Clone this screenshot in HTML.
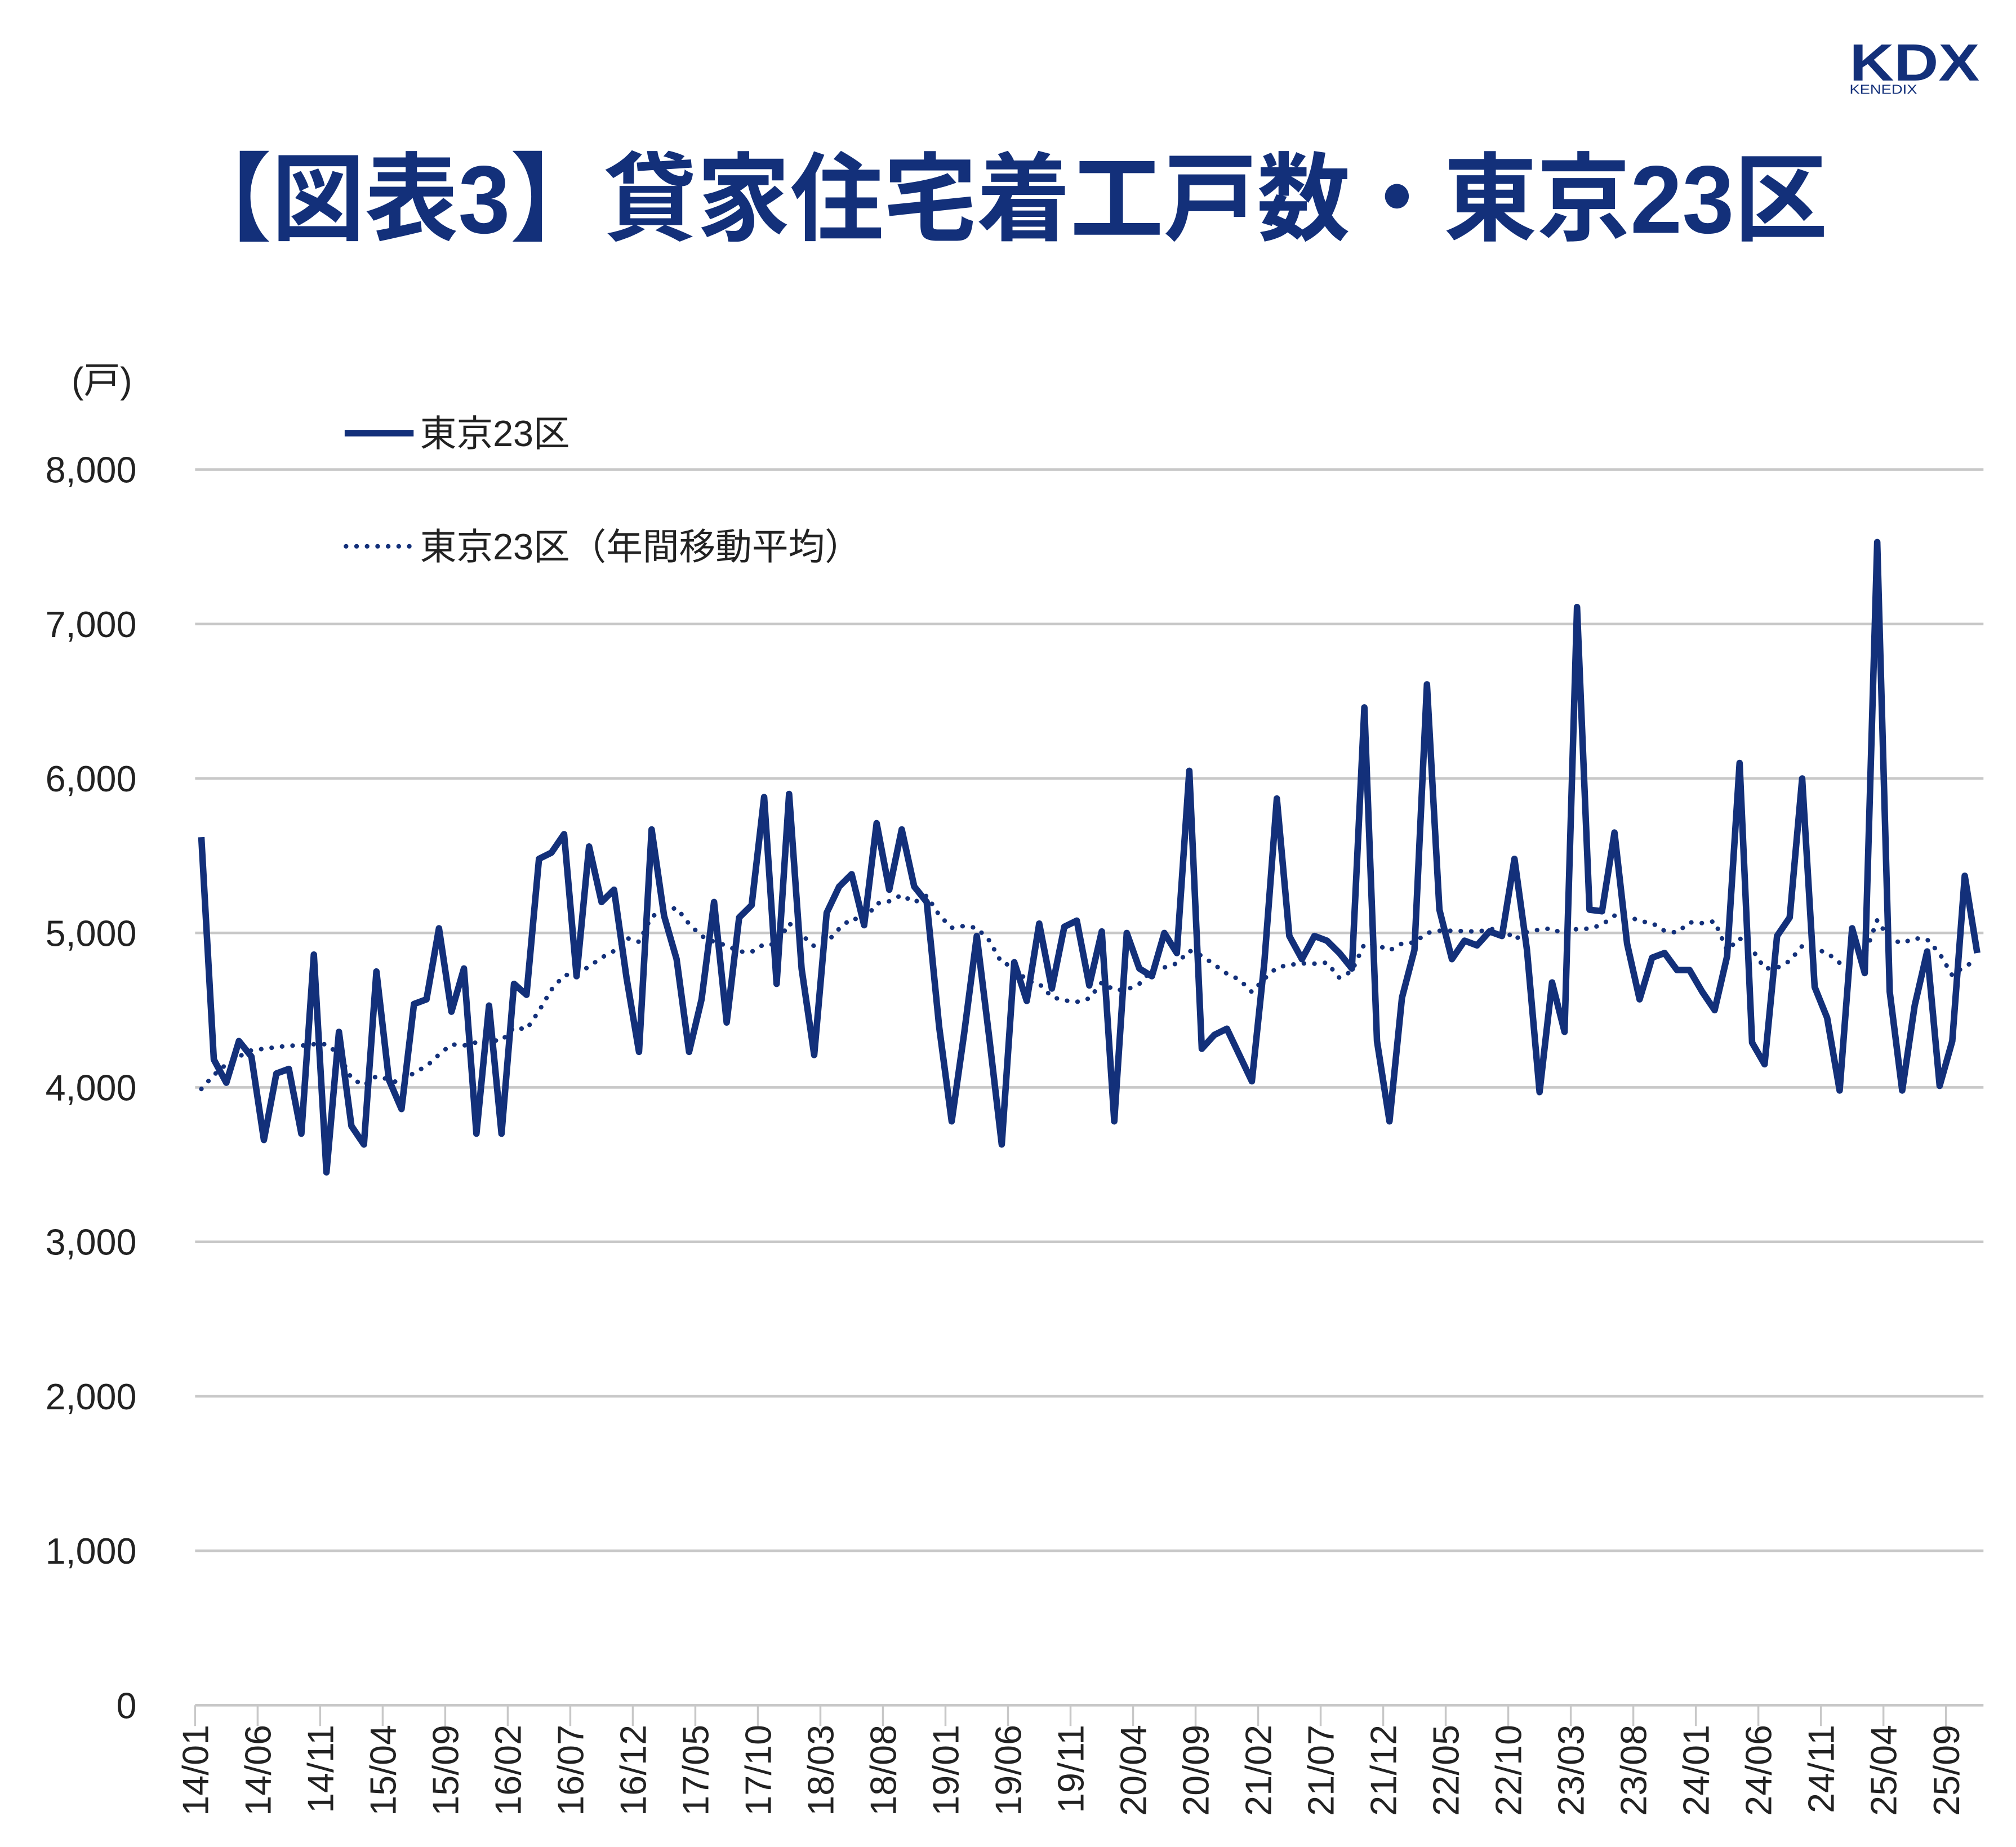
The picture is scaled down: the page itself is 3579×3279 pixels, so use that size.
<!DOCTYPE html>
<html><head><meta charset="utf-8"><style>
html,body{margin:0;padding:0;background:#fff;}
svg{display:block;}
text{font-family:"Liberation Sans","Noto Sans CJK JP",sans-serif;}
</style></head><body>
<svg id="c" width="3579" height="3279" viewBox="0 0 1550 1420" preserveAspectRatio="none" xmlns="http://www.w3.org/2000/svg">
<text x="1472" y="62" text-anchor="middle" font-size="40" font-weight="bold" fill="#13307a" textLength="100" lengthAdjust="spacingAndGlyphs">KDX</text>
<text x="1422" y="72" font-size="10" fill="#13307a" textLength="52" lengthAdjust="spacingAndGlyphs">KENEDIX</text>
<text x="137" y="179" font-size="74" font-weight="bold" fill="#13307a" textLength="1268" lengthAdjust="spacingAndGlyphs">【図表3】貸家住宅着工戸数・東京23区</text>
<text x="55" y="302" font-size="28" fill="#222">(戸)</text>
<line x1="265" y1="333" x2="318" y2="333" stroke="#13307a" stroke-width="5"/>
<text x="323" y="343" font-size="28" fill="#222">東京23区</text>
<line x1="266" y1="420" x2="318" y2="420" stroke="#13307a" stroke-width="3.5" stroke-dasharray="0.1 8" stroke-linecap="round"/>
<text x="323" y="430" font-size="28" fill="#222">東京23区（年間移動平均）</text>
</svg>
<script>
var ns="http://www.w3.org/2000/svg",svg=document.getElementById('c');
function el(t,a,txt){var e=document.createElementNS(ns,t);for(var k in a)e.setAttribute(k,a[k]);if(txt)e.textContent=txt;svg.appendChild(e);return e;}
var x0=150,x1=1525,y0=1311,sc=0.11875;
for(var v=0;v<=8000;v+=1000){var y=y0-v*sc;
el('line',{x1:x0,x2:x1,y1:y,y2:y,stroke:'#c8c8c8','stroke-width':2});
el('text',{x:105,y:y+10,'text-anchor':'end','font-size':28,fill:'#222'},v===0?'0':v.toLocaleString('en-US'));}
var d=[5620,4180,4030,4300,4200,3660,4090,4120,3700,4860,3450,4360,3750,3630,4750,4050,3860,4540,4570,5030,4490,4770,3700,4530,3700,4670,4600,5480,5520,5640,4720,5560,5200,5280,4710,4230,5670,5110,4830,4230,4570,5200,4420,5100,5180,5880,4670,5900,4770,4210,5130,5300,5380,5050,5710,5280,5670,5300,5200,4390,3780,4350,4980,4320,3630,4810,4560,5060,4640,5040,5080,4660,5010,3780,5000,4770,4720,5000,4870,6050,4250,4340,4380,4210,4040,4810,5870,4980,4830,4980,4950,4870,4770,6460,4300,3780,4580,4890,6610,5150,4830,4950,4920,5010,4980,5480,4890,3970,4680,4360,7110,5150,5140,5650,4930,4570,4840,4870,4760,4760,4620,4500,4850,6100,4290,4150,4980,5100,6000,4650,4450,3980,5030,4740,7530,4620,3980,4530,4880,4010,4300,5370,4870];
var n=d.length,w=(x1-x0)/n;
for(var i=0;i<=140;i+=5){var x=x0+i*w;el('line',{x1:x,x2:x,y1:y0,y2:y0+16,stroke:'#c8c8c8','stroke-width':1.5});
var yy=14+Math.floor(i/12),mm=i%12+1;var lab=yy+'/'+(mm<10?'0':'')+mm;
el('text',{transform:'translate('+(x+10)+',1326) rotate(-90)','text-anchor':'end','font-size':28,fill:'#222'},lab);}
var start=[3990,4080,4150,4200,4240,4250,4260,4270,4270,4280,4280];
var ma=[];for(var i=0;i<n;i++){if(i<11)ma.push(start[i]);else{var s=0;for(var j=i-11;j<=i;j++)s+=d[j];ma.push(s/12);}}
function path(a){return a.map(function(v,i){return (i?'L':'M')+(x0+(i+0.5)*w).toFixed(1)+' '+(y0-v*sc).toFixed(1);}).join(' ');}
el('path',{d:path(ma),fill:'none',stroke:'#13307a','stroke-width':3.5,'stroke-dasharray':'0.1 8','stroke-linecap':'round'});
el('path',{d:path(d),fill:'none',stroke:'#13307a','stroke-width':5,'stroke-linejoin':'round'});
</script>
</body></html>
